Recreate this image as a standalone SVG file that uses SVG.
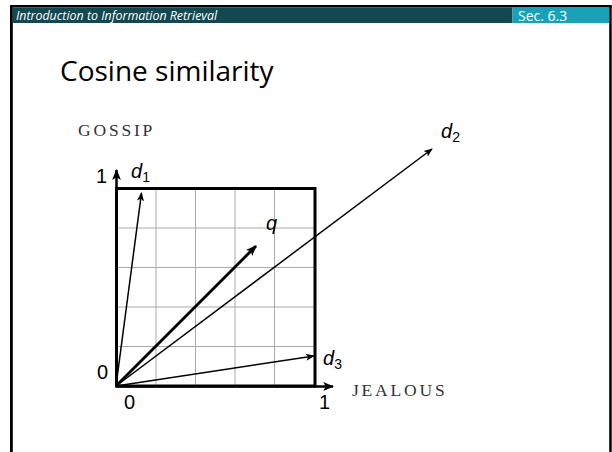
<svg xmlns="http://www.w3.org/2000/svg" width="612" height="452" viewBox="0 0 612 452">
<style>
.hdr{font-family:"Open Sans","Liberation Sans",sans-serif;fill:#fff}
.num{font-family:"Liberation Sans",Arial,sans-serif;font-size:20px;fill:#000}
.lbl{font-family:"Liberation Sans",Arial,sans-serif;font-size:20px;font-style:italic;fill:#000}
.sub{font-size:14px;font-style:normal}
.ax{font-family:"Liberation Serif","Times New Roman",serif;font-size:17.5px;fill:#333;letter-spacing:2.8px}
.grid{stroke:#aaa;stroke-width:1;fill:none}
.vec{stroke:#000;fill:none}
</style>
<defs>
<marker id="ah" viewBox="0 0 10 10" refX="9" refY="5" markerWidth="9" markerHeight="9" markerUnits="userSpaceOnUse" orient="auto">
<path d="M0,1 L10,5 L0,9 L2.5,5 Z" fill="#000"/>
</marker>
<marker id="ahb" viewBox="0 0 10 10" refX="9" refY="5" markerWidth="11" markerHeight="11" markerUnits="userSpaceOnUse" orient="auto">
<path d="M0,1 L10,5 L0,9 L2.5,5 Z" fill="#000"/>
</marker>
</defs>
<rect width="612" height="452" fill="#fff"/>
<g id="frame">
<rect x="10" y="5" width="601.5" height="2.5" fill="#000"/>
<rect x="10" y="5" width="2.8" height="447" fill="#000"/>
<rect x="609.2" y="5" width="2.5" height="447" fill="#000"/>
<rect x="12.8" y="7.5" width="499.7" height="15.5" fill="#124850"/>
<rect x="512.5" y="7.5" width="96.7" height="15.5" fill="#17a2b8"/>
<text class="hdr" x="16" y="19.5" font-size="12.4" font-style="italic">Introduction to Information Retrieval</text>
<text class="hdr" x="518" y="20.5" font-size="14">Sec. 6.3</text>
</g>
<text id="title" x="60" y="81" font-family="'Open Sans','Liberation Sans',sans-serif" font-size="28" fill="#000">Cosine similarity</text>
<g id="grid" class="grid">
<path d="M156,188V386M195.5,188V386M235,188V386M274.5,188V386M116,228H315M116,267.5H315M116,307H315M116,346.5H315"/>
</g>
<g id="box">
<rect x="116.5" y="188.5" width="198.5" height="197.5" fill="none" stroke="#000" stroke-width="3"/>
</g>
<g id="connectors">
<line class="vec" x1="116.5" y1="387" x2="116.5" y2="170" stroke-width="2.5" marker-end="url(#ahb)"/>
<line class="vec" x1="116" y1="386.5" x2="333" y2="386.5" stroke-width="2.5" marker-end="url(#ahb)"/>
<line class="vec" x1="116" y1="386" x2="141.5" y2="193" stroke-width="1.5" marker-end="url(#ah)"/>
<line class="vec" x1="116" y1="386" x2="256" y2="246" stroke-width="2.8" marker-end="url(#ahb)"/>
<line class="vec" x1="116" y1="386" x2="432" y2="149" stroke-width="1.5" marker-end="url(#ah)"/>
<line class="vec" x1="116" y1="386" x2="314" y2="356" stroke-width="1.5" marker-end="url(#ah)"/>
</g>
<g id="labels">
<text class="ax" x="78" y="136">GOSSIP</text>
<text class="ax" x="352" y="396">JEALOUS</text>
<text class="num" x="96" y="183">1</text>
<text class="num" x="97" y="379">0</text>
<text class="num" x="124" y="409">0</text>
<text class="num" x="319" y="409">1</text>
<text class="lbl" x="131" y="178">d<tspan class="sub" dy="4">1</tspan></text>
<text class="lbl" x="441" y="138">d<tspan class="sub" dy="4">2</tspan></text>
<text class="lbl" x="323" y="365">d<tspan class="sub" dy="4">3</tspan></text>
<text class="lbl" x="266" y="230">q</text>
</g>
</svg>
